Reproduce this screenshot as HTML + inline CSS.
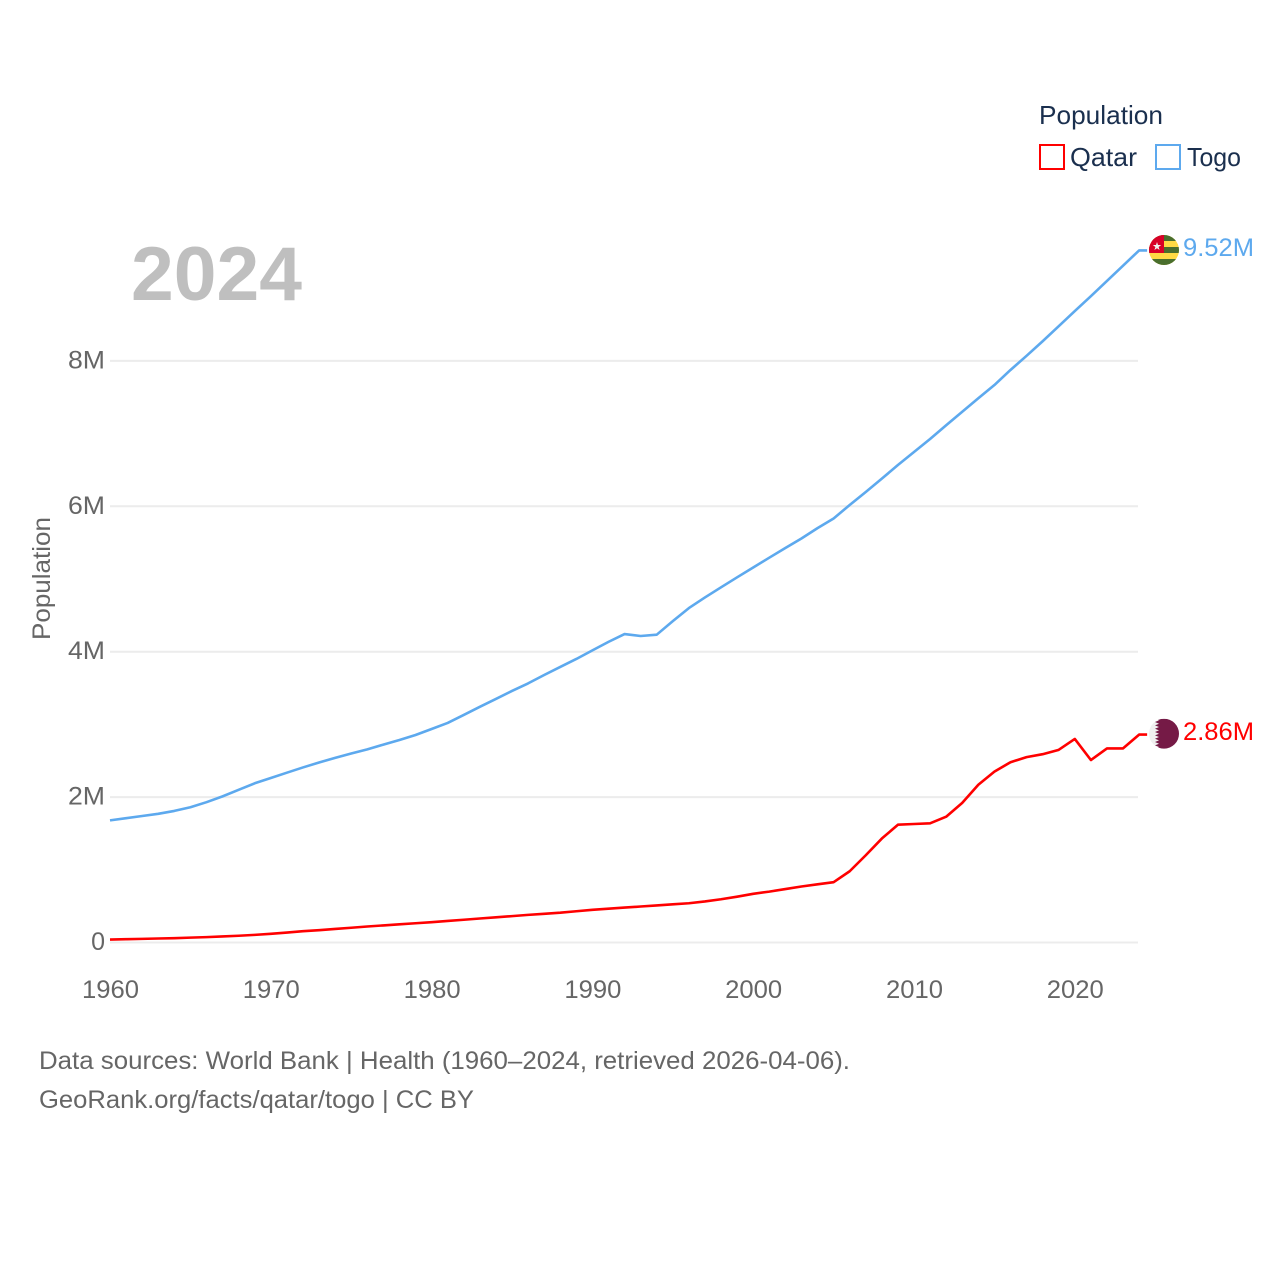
<!DOCTYPE html>
<html lang="en">
<head>
<meta charset="utf-8">
<title>Population: Qatar and Togo</title>
<style>
html,body{margin:0;padding:0;background:#fff;}
svg{display:block;}
text{font-family:"Liberation Sans",sans-serif;}
</style>
</head>
<body>
<svg id="chart" xmlns="http://www.w3.org/2000/svg" width="1280" height="1280" viewBox="0 0 1280 1280">
  <defs>
    <clipPath id="flag-clip-togo"><circle cx="1164" cy="250" r="15"/></clipPath>
    <clipPath id="flag-clip-qatar"><circle cx="1164" cy="733.7" r="15"/></clipPath>
  </defs>
  <rect x="0" y="0" width="1280" height="1280" fill="#ffffff"/>
  <g id="grid"></g>
  <g id="yticks"></g>
  <g id="xticks"></g>
  <text transform="translate(50,640) rotate(-90)" font-size="25" fill="#666666" textLength="123" lengthAdjust="spacingAndGlyphs">Population</text>
  <text x="131" y="300" font-size="76" font-weight="bold" fill="#bfbfbf" textLength="171" lengthAdjust="spacingAndGlyphs">2024</text>
  <g id="series"></g>

  <g clip-path="url(#flag-clip-togo)">
    <rect x="1149" y="235" width="30" height="30" fill="#ffda44"/>
    <rect x="1149" y="235" width="30" height="6" fill="#496e2d"/>
    <rect x="1149" y="247" width="30" height="6" fill="#496e2d"/>
    <rect x="1149" y="259" width="30" height="6" fill="#496e2d"/>
    <rect x="1149" y="235" width="15" height="18" fill="#d80027"/>
    <polygon points="1157,242 1158,245 1161.2,245 1158.6,247 1159.6,250 1157,248.2 1154.4,250 1155.4,247 1152.8,245 1156,245" fill="#f0f0f0"/>
  </g>
  <g clip-path="url(#flag-clip-qatar)">
    <rect x="1149" y="718.7" width="30" height="30" fill="#f0f0f0"/>
    <polygon points="1179,718.7 1155,718.7 1159,720.4 1155,722 1159,723.7 1155,725.4 1159,727 1155,728.7 1159,730.4 1155,732 1159,733.7 1155,735.4 1159,737 1155,738.7 1159,740.4 1155,742 1159,743.7 1155,745.4 1159,747 1155,748.7 1179,748.7" fill="#751a46"/>
  </g>

  <text x="1183" y="256" font-size="25" fill="#5da9ee" textLength="71" lengthAdjust="spacingAndGlyphs">9.52M</text>
  <text x="1183" y="740" font-size="25" fill="#ff0000" textLength="71" lengthAdjust="spacingAndGlyphs">2.86M</text>

  <g>
    <text x="1039" y="124" font-size="26" fill="#1a2f4e" textLength="124" lengthAdjust="spacingAndGlyphs">Population</text>
    <g>
      <rect x="1040" y="145" width="24" height="24" fill="none" stroke="#ff0000" stroke-width="2"/>
      <text x="1070" y="166" font-size="26" fill="#1a2f4e" textLength="67" lengthAdjust="spacingAndGlyphs">Qatar</text>
    </g>
    <g>
      <rect x="1156" y="145" width="24" height="24" fill="none" stroke="#5da9ee" stroke-width="2"/>
      <text x="1187" y="166" font-size="26" fill="#1a2f4e" textLength="54" lengthAdjust="spacingAndGlyphs">Togo</text>
    </g>
  </g>

  <text x="39" y="1069" font-size="25" fill="#666666" textLength="811" lengthAdjust="spacingAndGlyphs">Data sources: World Bank | Health (1960–2024, retrieved 2026-04-06).</text>
  <a><text x="39" y="1108" font-size="25" fill="#666666" textLength="435" lengthAdjust="spacingAndGlyphs">GeoRank.org/facts/qatar/togo | CC BY</text></a>
</svg>
<script>
const years = [1960,1961,1962,1963,1964,1965,1966,1967,1968,1969,1970,1971,1972,1973,1974,1975,1976,1977,1978,1979,1980,1981,1982,1983,1984,1985,1986,1987,1988,1989,1990,1991,1992,1993,1994,1995,1996,1997,1998,1999,2000,2001,2002,2003,2004,2005,2006,2007,2008,2009,2010,2011,2012,2013,2014,2015,2016,2017,2018,2019,2020,2021,2022,2023,2024];
const togoPopulation = [1.68,1.71,1.74,1.77,1.81,1.86,1.93,2.01,2.10,2.19,2.263,2.336,2.408,2.476,2.54,2.60,2.656,2.722,2.785,2.854,2.937,3.02,3.13,3.242,3.35,3.46,3.564,3.68,3.79,3.90,4.018,4.135,4.243,4.216,4.234,4.42,4.60,4.746,4.886,5.023,5.158,5.293,5.426,5.557,5.70,5.832,6.018,6.197,6.38,6.568,6.747,6.926,7.115,7.30,7.486,7.668,7.875,8.07,8.27,8.477,8.686,8.89,9.10,9.31,9.52];
const qatarPopulation = [0.04,0.045,0.05,0.055,0.06,0.067,0.074,0.083,0.093,0.105,0.12,0.137,0.155,0.17,0.187,0.203,0.22,0.235,0.25,0.265,0.28,0.297,0.313,0.33,0.347,0.363,0.38,0.395,0.41,0.43,0.45,0.465,0.48,0.495,0.51,0.525,0.54,0.565,0.595,0.63,0.67,0.70,0.735,0.77,0.80,0.83,0.98,1.20,1.43,1.62,1.63,1.64,1.73,1.92,2.17,2.35,2.48,2.55,2.59,2.65,2.80,2.51,2.67,2.67,2.86];
const yTickValues = [0,2,4,6,8];
const yTickLabels = ['0','2M','4M','6M','8M'];
const xTickValues = [1960,1970,1980,1990,2000,2010,2020];

const SVG_NS = 'http://www.w3.org/2000/svg';
const xScale = function (year) { return 110 + (year - 1960) * 16.08; };
const yScale = function (value) { return 942.5 - value * 72.7; };

function make(tag, parentId, attrs, content) {
  const el = document.createElementNS(SVG_NS, tag);
  Object.keys(attrs).forEach(function (k) { el.setAttribute(k, attrs[k]); });
  if (content !== undefined) { el.textContent = content; }
  document.getElementById(parentId).appendChild(el);
  return el;
}

yTickValues.forEach(function (value, i) {
  const y = yScale(value);
  const line = make('line', 'grid', {x1: 110, x2: 1138, y1: y, y2: y, stroke: '#ececec', 'stroke-width': 2});
  
  
  const label = make('text', 'yticks', {x: 105, y: y + 7.5, 'text-anchor': 'end', 'font-size': 25, fill: '#666666'}, yTickLabels[i]);
  if (yTickLabels[i].length > 1) {
    label.setAttribute('textLength', 37);
    label.setAttribute('lengthAdjust', 'spacingAndGlyphs');
  }
  
  
});

xTickValues.forEach(function (year) {
  const label = make('text', 'xticks', {x: xScale(year) + 0.5, y: 998, 'text-anchor': 'middle', 'font-size': 25, fill: '#666666', textLength: 57, lengthAdjust: 'spacingAndGlyphs'}, String(year));
  
  
});

function drawSeries(values, color, name) {
  const pts = values.map(function (v, i) { return xScale(years[i]) + ',' + yScale(v); });
  const last = values[values.length - 1];
  pts.push((xScale(years[years.length - 1]) + 8) + ',' + yScale(last));
  const line = make('polyline', 'series', {points: pts.join(' '), fill: 'none', stroke: color, 'stroke-width': 2.6, 'stroke-linejoin': 'round'});
  
  
}
drawSeries(togoPopulation, '#5da9ee', 'line-togo');
drawSeries(qatarPopulation, '#ff0000', 'line-qatar');
</script>
</body>
</html>
